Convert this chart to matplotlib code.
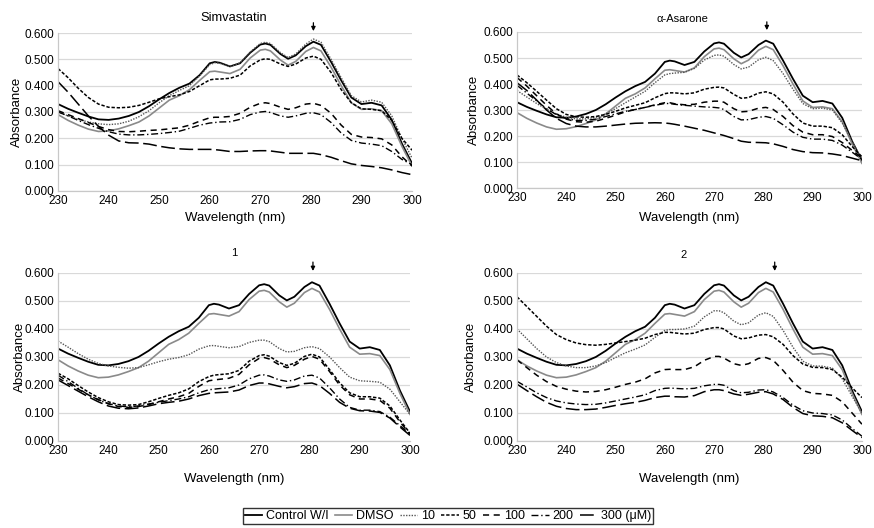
import matplotlib
matplotlib.use("Agg")
import matplotlib.pyplot as plt
import numpy as np

plt.rcParams['font.family'] = ['Liberation Sans', 'DejaVu Sans']

# wavelength grid (nm) the values were read at
wl = [230, 232, 234, 236, 238, 240, 242, 244, 246, 248, 250, 252, 254, 256, 258,
      260, 261, 262, 264, 266, 268, 270, 271, 272, 274, 275.5, 277, 279, 280.5,
      282, 284, 286, 288, 290, 292, 294, 296, 298, 300]

# shared controls (same in all four panels)
control = [0.330, 0.312, 0.297, 0.283, 0.272, 0.270, 0.275, 0.285, 0.300, 0.322, 0.348,
           0.372, 0.392, 0.408, 0.440, 0.485, 0.490, 0.487, 0.473, 0.485, 0.525, 0.556,
           0.560, 0.555, 0.520, 0.502, 0.515, 0.550, 0.567, 0.555, 0.490, 0.420, 0.355,
           0.330, 0.335, 0.325, 0.270, 0.180, 0.105]
dmso = [0.290, 0.268, 0.250, 0.235, 0.226, 0.228, 0.236, 0.248, 0.262, 0.285, 0.315,
        0.345, 0.362, 0.385, 0.420, 0.453, 0.455, 0.452, 0.446, 0.462, 0.505, 0.535,
        0.538, 0.532, 0.497, 0.478, 0.492, 0.530, 0.545, 0.532, 0.470, 0.400, 0.335,
        0.310, 0.312, 0.305, 0.255, 0.170, 0.095]

# Simvastatin
simva_10 = [0.300, 0.285, 0.272, 0.262, 0.255, 0.252, 0.255, 0.265, 0.282, 0.305, 0.335,
            0.362, 0.382, 0.400, 0.437, 0.480, 0.487, 0.485, 0.472, 0.487, 0.528, 0.560,
            0.565, 0.560, 0.525, 0.507, 0.520, 0.558, 0.577, 0.565, 0.500, 0.430, 0.362,
            0.338, 0.345, 0.337, 0.285, 0.200, 0.125]
simva_50 = [0.465, 0.430, 0.390, 0.355, 0.330, 0.318, 0.316, 0.318, 0.325, 0.337, 0.350,
            0.358, 0.365, 0.378, 0.400, 0.422, 0.425, 0.425, 0.428, 0.440, 0.475, 0.498,
            0.502, 0.500, 0.482, 0.473, 0.482, 0.505, 0.512, 0.500, 0.450, 0.385, 0.335,
            0.312, 0.310, 0.305, 0.268, 0.200, 0.155]
simva_100 = [0.305, 0.290, 0.275, 0.260, 0.245, 0.233, 0.226, 0.225, 0.227, 0.230, 0.232,
             0.236, 0.240, 0.250, 0.265, 0.278, 0.280, 0.280, 0.283, 0.295, 0.318, 0.333,
             0.335, 0.332, 0.318, 0.310, 0.316, 0.330, 0.333, 0.325, 0.295, 0.250, 0.215,
             0.205, 0.203, 0.198, 0.175, 0.130, 0.095]
simva_200 = [0.300, 0.285, 0.268, 0.252, 0.238, 0.225, 0.216, 0.213, 0.213, 0.215, 0.218,
             0.222, 0.227, 0.238, 0.250, 0.258, 0.260, 0.262, 0.263, 0.272, 0.290, 0.300,
             0.302, 0.298, 0.285, 0.280, 0.285, 0.295, 0.297, 0.290, 0.260, 0.220, 0.192,
             0.182, 0.178, 0.172, 0.150, 0.120, 0.100]
simva_300 = [0.415, 0.375, 0.330, 0.285, 0.245, 0.212, 0.190, 0.183, 0.182, 0.178, 0.170,
             0.164, 0.160, 0.158, 0.158, 0.158, 0.157, 0.155, 0.150, 0.150, 0.152, 0.153,
             0.153, 0.152, 0.147, 0.143, 0.143, 0.143, 0.143, 0.138, 0.128, 0.115, 0.103,
             0.097, 0.093, 0.088, 0.080, 0.070, 0.062]

# alpha-Asarone
asar_10 = [0.375, 0.350, 0.325, 0.303, 0.285, 0.272, 0.266, 0.266, 0.272, 0.285, 0.305,
           0.328, 0.350, 0.372, 0.405, 0.435, 0.440, 0.442, 0.445, 0.460, 0.492, 0.510,
           0.512, 0.507, 0.475, 0.458, 0.465, 0.493, 0.503, 0.490, 0.440, 0.380, 0.325,
           0.305, 0.307, 0.300, 0.250, 0.180, 0.110]
asar_50 = [0.435, 0.405, 0.372, 0.338, 0.305, 0.283, 0.274, 0.272, 0.275, 0.283, 0.295,
           0.308, 0.318, 0.328, 0.347, 0.363, 0.366, 0.366, 0.362, 0.366, 0.380, 0.387,
           0.388, 0.385, 0.360, 0.345, 0.348, 0.365, 0.370, 0.362, 0.330, 0.285, 0.250,
           0.238, 0.238, 0.232, 0.205, 0.160, 0.120]
asar_100 = [0.425, 0.392, 0.355, 0.318, 0.285, 0.265, 0.255, 0.253, 0.257, 0.268, 0.280,
            0.293, 0.302, 0.310, 0.320, 0.328, 0.328, 0.324, 0.320, 0.322, 0.330, 0.334,
            0.334, 0.330, 0.305, 0.293, 0.295, 0.307, 0.310, 0.302, 0.275, 0.240, 0.215,
            0.205, 0.205, 0.198, 0.175, 0.145, 0.115]
asar_200 = [0.395, 0.365, 0.335, 0.305, 0.282, 0.267, 0.260, 0.260, 0.265, 0.275, 0.285,
            0.295, 0.302, 0.310, 0.318, 0.325, 0.325, 0.322, 0.318, 0.315, 0.312, 0.310,
            0.308, 0.302, 0.275, 0.262, 0.263, 0.272, 0.275, 0.268, 0.243, 0.215, 0.195,
            0.188, 0.188, 0.183, 0.165, 0.138, 0.110]
asar_300 = [0.405, 0.375, 0.338, 0.300, 0.268, 0.248, 0.238, 0.235, 0.235, 0.238, 0.242,
            0.246, 0.249, 0.250, 0.251, 0.250, 0.248, 0.245, 0.238, 0.230, 0.222, 0.212,
            0.207, 0.202, 0.190, 0.180, 0.176, 0.175, 0.174, 0.170, 0.160, 0.148, 0.140,
            0.136, 0.135, 0.131, 0.125, 0.115, 0.105]

# compound 1
c1_10 = [0.357, 0.335, 0.312, 0.292, 0.277, 0.268, 0.263, 0.260, 0.262, 0.272, 0.283,
         0.292, 0.298, 0.308, 0.328, 0.340, 0.341, 0.338, 0.333, 0.337, 0.352, 0.360,
         0.360, 0.355, 0.330, 0.318, 0.320, 0.333, 0.337, 0.330, 0.300, 0.262, 0.228,
         0.215, 0.213, 0.210, 0.185, 0.140, 0.095]
c1_50 = [0.242, 0.222, 0.198, 0.175, 0.155, 0.140, 0.130, 0.128, 0.130, 0.140, 0.152,
         0.163, 0.172, 0.186, 0.212, 0.230, 0.235, 0.237, 0.240, 0.252, 0.285, 0.305,
         0.308, 0.303, 0.280, 0.270, 0.277, 0.302, 0.310, 0.300, 0.255, 0.208, 0.172,
         0.158, 0.158, 0.153, 0.125, 0.075, 0.028]
c1_100 = [0.225, 0.205, 0.185, 0.165, 0.148, 0.133, 0.123, 0.120, 0.123, 0.130, 0.140,
          0.150, 0.158, 0.170, 0.195, 0.215, 0.218, 0.220, 0.224, 0.238, 0.272, 0.295,
          0.298, 0.293, 0.272, 0.262, 0.270, 0.292, 0.302, 0.292, 0.248, 0.200, 0.165,
          0.150, 0.150, 0.145, 0.117, 0.068, 0.025]
c1_200 = [0.235, 0.212, 0.188, 0.165, 0.147, 0.133, 0.125, 0.122, 0.125, 0.132, 0.138,
          0.144, 0.150, 0.158, 0.172, 0.183, 0.185, 0.187, 0.190, 0.200, 0.222, 0.235,
          0.236, 0.232, 0.218, 0.213, 0.218, 0.232, 0.235, 0.225, 0.190, 0.150, 0.120,
          0.110, 0.110, 0.105, 0.085, 0.055, 0.025]
c1_300 = [0.218, 0.198, 0.178, 0.158, 0.140, 0.125, 0.117, 0.115, 0.118, 0.125, 0.133,
          0.138, 0.142, 0.150, 0.162, 0.170, 0.172, 0.173, 0.175, 0.182, 0.198, 0.207,
          0.207, 0.204, 0.195, 0.190, 0.194, 0.205, 0.207, 0.198, 0.170, 0.138, 0.117,
          0.108, 0.107, 0.102, 0.082, 0.050, 0.020]

# compound 2
c2_10 = [0.400, 0.365, 0.330, 0.300, 0.280, 0.268, 0.262, 0.262, 0.268, 0.280, 0.298,
         0.315, 0.328, 0.343, 0.370, 0.395, 0.398, 0.398, 0.400, 0.410, 0.443, 0.465,
         0.465, 0.458, 0.428, 0.415, 0.422, 0.450, 0.458, 0.445, 0.395, 0.335, 0.285,
         0.268, 0.267, 0.260, 0.222, 0.160, 0.100]
c2_50 = [0.515, 0.480, 0.445, 0.410, 0.380, 0.362, 0.350, 0.344, 0.342, 0.345, 0.350,
         0.355, 0.360, 0.367, 0.380, 0.388, 0.388, 0.386, 0.382, 0.385, 0.398, 0.405,
         0.405, 0.400, 0.375, 0.365, 0.368, 0.378, 0.380, 0.372, 0.345, 0.305, 0.275,
         0.263, 0.262, 0.255, 0.228, 0.190, 0.155]
c2_100 = [0.290, 0.262, 0.235, 0.212, 0.195, 0.185, 0.178, 0.175, 0.177, 0.183, 0.192,
          0.202, 0.210, 0.222, 0.243, 0.255, 0.256, 0.255, 0.255, 0.265, 0.288, 0.302,
          0.302, 0.296, 0.276, 0.270, 0.276, 0.295, 0.298, 0.288, 0.252, 0.210, 0.180,
          0.170, 0.168, 0.163, 0.140, 0.100, 0.060]
c2_200 = [0.213, 0.193, 0.172, 0.155, 0.143, 0.136, 0.132, 0.130, 0.131, 0.136, 0.143,
          0.150, 0.157, 0.165, 0.180, 0.188, 0.189, 0.188, 0.186, 0.188, 0.197, 0.202,
          0.202, 0.199, 0.180, 0.172, 0.174, 0.182, 0.183, 0.175, 0.155, 0.128, 0.108,
          0.100, 0.098, 0.093, 0.075, 0.045, 0.017]
c2_300 = [0.203, 0.180, 0.158, 0.138, 0.124, 0.116, 0.112, 0.112, 0.114, 0.120, 0.127,
          0.133, 0.138, 0.145, 0.155, 0.160, 0.160, 0.158, 0.157, 0.162, 0.176, 0.183,
          0.183, 0.180, 0.168, 0.163, 0.167, 0.174, 0.176, 0.168, 0.148, 0.120, 0.098,
          0.090, 0.088, 0.083, 0.065, 0.038, 0.012]

labels = ['Control W/I', 'DMSO', '10', '50', '100', '200', '300 (\u03bcM)']
styles = [
    dict(color='black', lw=1.3, ls='-'),
    dict(color='#8a8a8a', lw=1.2, ls='-'),
    dict(color='#555555', lw=1.0, ls=(0, (1, 1))),
    dict(color='black', lw=1.1, ls=(0, (2.2, 1.2))),
    dict(color='black', lw=1.1, ls=(0, (4, 3))),
    dict(color='black', lw=1.0, ls=(0, (5, 2, 1, 2))),
    dict(color='black', lw=1.1, ls=(0, (9, 3))),
]

panels = [
    dict(title='Simvastatin', tsize=9.3, rect=[0.0664, 0.6383, 0.405, 0.2992],
         series=[simva_10, simva_50, simva_100, simva_200, simva_300],
         arrow=280.5, ty=1.095, tx=0.497, ylab=-0.099, xlab=-0.133),
    dict(title='\u03b1-Asarone', tsize=8, rect=[0.5915, 0.6439, 0.3947, 0.2955],
         series=[asar_10, asar_50, asar_100, asar_200, asar_300],
         arrow=280.7, ty=1.083, tx=0.481, ylab=-0.107, xlab=-0.154),
    dict(title='1', tsize=8, rect=[0.0664, 0.1648, 0.4027, 0.3182],
         series=[c1_10, c1_50, c1_100, c1_200, c1_300],
         arrow=280.7, ty=1.12, tx=0.50, ylab=-0.09, xlab=-0.19),
    dict(title='2', tsize=8, rect=[0.5915, 0.1648, 0.3947, 0.3182],
         series=[c2_10, c2_50, c2_100, c2_200, c2_300],
         arrow=282.3, ty=1.107, tx=0.484, ylab=-0.116, xlab=-0.19),
]

fig = plt.figure(figsize=(8.74, 5.28), dpi=100)

handles = None
for p in panels:
    ax = fig.add_axes(p['rect'])
    all_series = [control, dmso] + p['series']
    lines = []
    for ys, st, lab in zip(all_series, styles, labels):
        ln, = ax.plot(wl, ys, label=lab, **st)
        lines.append(ln)
    if handles is None:
        handles = lines
    ax.set_xlim(230, 300)
    ax.set_ylim(0, 0.6)
    ax.set_xticks(range(230, 301, 10))
    ax.set_yticks(np.arange(0, 0.61, 0.1))
    ax.set_yticklabels(['%.3f' % v for v in np.arange(0, 0.61, 0.1)])
    ax.tick_params(length=0, labelsize=8.5, pad=3)
    ax.grid(axis='y', color='#d9d9d9', lw=0.9)
    ax.set_axisbelow(True)
    for s in ['top', 'right']:
        ax.spines[s].set_visible(False)
    for s in ['left', 'bottom']:
        ax.spines[s].set_color('#c8c8c8')
        ax.spines[s].set_linewidth(0.9)
    ax.set_ylabel('Absorbance', fontsize=9.5)
    ax.yaxis.set_label_coords(p['ylab'], 0.5)
    ax.set_xlabel('Wavelength (nm)', fontsize=9.5)
    ax.xaxis.set_label_coords(0.5, p['xlab'])
    ax.text(p['tx'], p['ty'], p['title'], transform=ax.transAxes,
            ha='center', va='center', fontsize=p['tsize'])
    ax.annotate('', xy=(p['arrow'], 1.012), xycoords=('data', 'axes fraction'),
                xytext=(p['arrow'], 1.065), textcoords=('data', 'axes fraction'),
                arrowprops=dict(arrowstyle='-|>', color='black', lw=0.9,
                                mutation_scale=6, shrinkA=0, shrinkB=0))

leg = fig.legend(handles, labels, loc='center', bbox_to_anchor=(0.5126, 0.0227),
                 ncol=7, fontsize=9, handlelength=1.4, handletextpad=0.3,
                 columnspacing=0.5, frameon=True, fancybox=False,
                 borderpad=0.15, borderaxespad=0)
leg.get_frame().set_edgecolor('black')
leg.get_frame().set_linewidth(1.0)

fig.savefig('out.png', dpi=100)
